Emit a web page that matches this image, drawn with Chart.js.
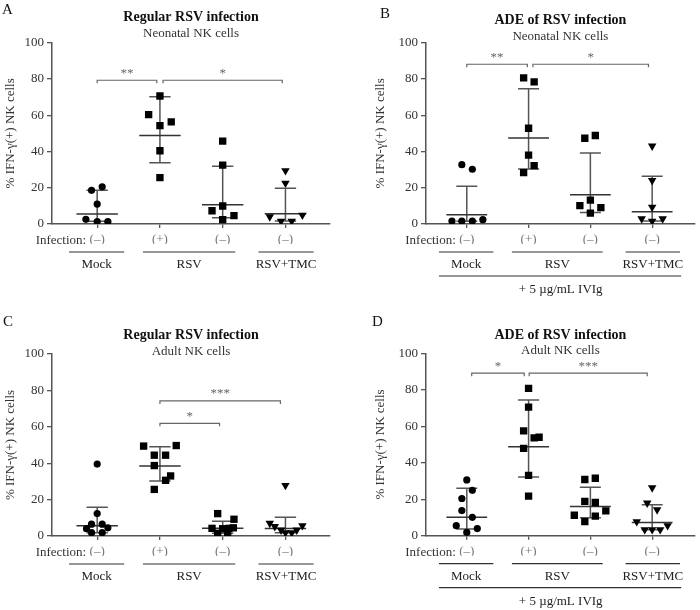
<!DOCTYPE html>
<html>
<head>
<meta charset="utf-8">
<script src="https://cdn.jsdelivr.net/npm/chart.js@4.4.1/dist/chart.umd.min.js"></script>
<style>
body { margin: 0; background: #fff; }
#fig { position: relative; width: 700px; height: 610px; overflow: hidden; }
#fig canvas { position: absolute; }
</style>
</head>
<body>
<div id="fig">
  <canvas id="chartA" width="350" height="300" style="left:0;top:0"></canvas>
  <canvas id="chartB" width="350" height="300" style="left:350px;top:0"></canvas>
  <canvas id="chartC" width="350" height="320" style="left:0;top:290px"></canvas>
  <canvas id="chartD" width="350" height="320" style="left:350px;top:290px"></canvas>
</div>
<script>
// values (% IFN-g(+) NK cells)
var infectionLabels = ['(\u2013)', '(+)', '(\u2013)', '(\u2013)'];
var groupNames = ['Mock', 'RSV', 'RSV+TMC'];
var yTicks = [0, 20, 40, 60, 80, 100];
var yTitle = '% IFN-\u03b3(+) NK cells';
var ivigNote = '+ 5 \u00b5g/mL IVIg';

// A - regular infection, neonatal
var aMock = [18.6, 20.5, 11.0, 2.6, 1.3, 1.3];
var aMockX = [-0.09, 0.08, 0, -0.18, 0, 0.17];
var aRsvPos = [70.6, 60.3, 56.3, 54.3, 40.4, 25.6];
var aRsvPosX = [0, -0.18, 0.18, 0, 0, 0];
var aRsvNeg = [45.7, 32.5, 9.9, 7.3, 4.6, 2.4];
var aRsvNegX = [0, 0, 0, -0.17, 0.18, 0];
var aTmc = [29.4, 22.5, 4.0, 1.6, 1.6, 4.9];
var aTmcX = [0, 0, -0.25, -0.07, 0.1, 0.27];
var aMean = [5.5, 48.8, 10.6, 5.7];
var aHigh = [18.6, 70.2, 31.8, 19.7];
var aLow = [1.5, 33.8, 3.5, 1.6];
var aSig = [[0, 0.95, 79.3, '**'], [1.05, 2.95, 79.3, '*']];

// B - ADE, neonatal
var bMock = [32.7, 30.2, 1.6, 1.6, 1.6, 2.4];
var bMockX = [-0.08, 0.09, -0.24, -0.08, 0.09, 0.26];
var bRsvPos = [80.6, 78.4, 52.8, 38.0, 32.2, 28.3];
var bRsvPosX = [-0.08, 0.09, 0, 0, 0.09, -0.08];
var bRsvNeg = [47.3, 48.8, 13.2, 10.1, 9.0, 6.0];
var bRsvNegX = [-0.09, 0.08, 0, -0.17, 0.17, 0];
var bTmc = [43.0, 24.0, 9.3, 2.9, 1.6, 2.9];
var bTmcX = [0, 0, 0, -0.17, 0, 0.17];
var bMean = [5.1, 47.5, 16.1, 6.8];
var bHigh = [20.8, 74.6, 39.1, 26.3];
var bLow = [1.5, 30.3, 6.4, 1.6];
var bSig = [[0, 0.98, 88.1, '**'], [1.07, 2.94, 88.1, '*']];

// C - regular infection, adult
var cMock = [39.5, 12.3, 6.5, 6.5, 4.0, 4.5, 1.8, 1.8];
var cMockX = [0, 0, -0.09, 0.08, -0.17, 0.17, -0.09, 0.08];
var cRsvPos = [49.4, 49.7, 44.4, 44.4, 38.7, 33.0, 30.6, 25.6];
var cRsvPosX = [-0.26, 0.26, -0.09, 0.09, -0.09, 0.17, 0.09, -0.09];
var cRsvNeg = [12.3, 9.2, 4.2, 4.0, 4.2, 4.5, 1.5, 1.5];
var cRsvNegX = [-0.08, 0.18, -0.17, 0, 0.1, 0.17, -0.08, 0.08];
var cTmc = [27.8, 7.0, 5.2, 3.3, 1.8, 1.8, 3.3, 5.7];
var cTmcX = [0, -0.25, -0.17, -0.07, 0, 0.1, 0.18, 0.27];
var cMean = [5.7, 38.5, 4.2, 4.1];
var cHigh = [15.8, 49.0, 8.1, 10.3];
var cLow = [1.8, 30.2, 1.5, 1.8];
var cSig = [[1, 1.95, 61.9, '*'], [1, 2.92, 74.2, '***']];

// D - ADE, adult
var dMock = [30.6, 24.9, 20.4, 13.8, 10.1, 5.5, 3.9, 1.8];
var dMockX = [0, 0.09, -0.08, -0.08, 0.09, -0.17, 0.17, 0];
var dRsvPos = [80.8, 70.5, 57.5, 53.6, 54.0, 47.9, 33.1, 21.7];
var dRsvPosX = [0, 0, -0.08, 0.09, 0.17, -0.08, 0, 0];
var dRsvNeg = [30.8, 31.5, 18.8, 18.2, 11.2, 13.6, 10.7, 7.7];
var dRsvNegX = [-0.09, 0.08, -0.09, 0.08, -0.26, 0.25, 0.08, -0.09];
var dTmc = [26.3, 17.9, 14.2, 7.7, 3.3, 3.3, 3.3, 5.5];
var dTmcX = [0, -0.08, 0.08, -0.25, -0.12, 0, 0.13, 0.25];
var dMean = [10.1, 48.8, 16.0, 7.2];
var dHigh = [26.0, 74.4, 26.5, 16.9];
var dLow = [3.7, 32.2, 9.8, 3.3];
var dSig = [[0.08, 0.93, 89.1, '*'], [1.01, 2.92, 89.1, '***']];

var serif = "'Liberation Serif', 'DejaVu Serif', serif";
var ink = '#222';
var lineGray = '#555';

function toPoints(vals, offs, cat) {
    return vals.map(function(v, i) { return {x: cat + offs[i], y: v}; });
}

// drawing extras (error bars, brackets, labels) per canvas
var panels = {};

var figurePlugin = {
    id: 'figureExtras',
    beforeDatasetsDraw: function(chart) {
        var p = panels[chart.canvas.id];
        var ctx = chart.ctx, xs = chart.scales.x, ys = chart.scales.y;
        ctx.save();
        ctx.lineWidth = 1.5;
        for (var i = 0; i < 4; i++) {
            var cx = xs.getPixelForValue(i);
            var hi = ys.getPixelForValue(p.high[i]);
            var lo = ys.getPixelForValue(p.low[i]);
            var mn = ys.getPixelForValue(p.mean[i]);
            var capW = xs.getPixelForValue(i + 0.17) - cx;
            var meanW = xs.getPixelForValue(i + 0.33) - cx;
            ctx.strokeStyle = lineGray;
            ctx.beginPath();
            ctx.moveTo(cx, hi); ctx.lineTo(cx, lo);
            ctx.moveTo(cx - capW, hi); ctx.lineTo(cx + capW, hi);
            ctx.moveTo(cx - capW, lo); ctx.lineTo(cx + capW, lo);
            ctx.stroke();
            ctx.strokeStyle = '#333';
            ctx.beginPath();
            ctx.moveTo(cx - meanW, mn); ctx.lineTo(cx + meanW, mn);
            ctx.stroke();
        }
        ctx.restore();
    },
    afterDraw: function(chart) {
        var p = panels[chart.canvas.id];
        var ctx = chart.ctx, xs = chart.scales.x, ys = chart.scales.y;
        var area = chart.chartArea;
        var base = area.bottom;
        ctx.save();
        ctx.fillStyle = '#111';
        ctx.textBaseline = 'middle';
        ctx.textAlign = 'left';
        ctx.font = '15px ' + serif;
        ctx.fillText(p.letter, p.letterX, p.letterY);

        var mid = (area.left + area.right) / 2;
        ctx.textAlign = 'center';
        ctx.font = 'bold 14px ' + serif;
        ctx.fillText(p.title, mid, p.titleY);
        ctx.font = '13px ' + serif;
        ctx.fillStyle = '#333';
        ctx.fillText(p.subtitle, mid, p.subY);

        // significance brackets
        ctx.strokeStyle = '#666';
        ctx.fillStyle = '#666';
        ctx.lineWidth = 1.2;
        p.sig.forEach(function(s) {
            var x1 = xs.getPixelForValue(s[0]), x2 = xs.getPixelForValue(s[1]);
            var y = ys.getPixelForValue(s[2]);
            ctx.beginPath();
            ctx.moveTo(x1, y + 3); ctx.lineTo(x1, y); ctx.lineTo(x2, y); ctx.lineTo(x2, y + 3);
            ctx.stroke();
            ctx.font = '13px ' + serif;
            ctx.fillText(s[3], (x1 + x2) / 2, y - 7);
        });

        // infection row + group underlines
        ctx.font = '13px ' + serif;
        ctx.fillStyle = '#333';
        ctx.textAlign = 'right';
        ctx.fillText('Infection:', xs.getPixelForValue(0) - 11, base + 17);
        ctx.textAlign = 'center';
        var spans = [[-0.45, 0.43], [0.73, 2.2], [2.57, 3.45]];
        ctx.strokeStyle = '#333';
        ctx.lineWidth = 1.2;
        spans.forEach(function(sp, i) {
            var x1 = xs.getPixelForValue(sp[0]), x2 = xs.getPixelForValue(sp[1]);
            ctx.beginPath();
            ctx.moveTo(x1, base + 28); ctx.lineTo(x2, base + 28);
            ctx.stroke();
            ctx.fillStyle = ink;
            ctx.fillText(groupNames[i], (x1 + x2) / 2, base + 40.5);
        });
        if (p.ivig) {
            var l1 = xs.getPixelForValue(-0.45), l2 = xs.getPixelForValue(3.47);
            ctx.beginPath();
            ctx.moveTo(l1, base + 52); ctx.lineTo(l2, base + 52);
            ctx.stroke();
            ctx.fillText(ivigNote, xs.getPixelForValue(1.52), base + 66);
        }
        ctx.restore();
    }
};

function makePanel(id, d, lay) {
    panels[id] = {
        letter: lay.letter, letterX: lay.letterX, letterY: lay.letterY,
        title: lay.title, subtitle: lay.subtitle, titleY: lay.titleY, subY: lay.subY,
        mean: d.mean, high: d.high, low: d.low, sig: d.sig, ivig: lay.ivig
    };
    var styles = [
        {pointStyle: 'circle', radius: 3.6, rot: 0},
        {pointStyle: 'rect', radius: 5.2, rot: 0},
        {pointStyle: 'rect', radius: 5.2, rot: 0},
        {pointStyle: 'triangle', radius: 4.9, rot: 180}
    ];
    var sets = d.groups.map(function(g, i) {
        return {
            data: toPoints(g[0], g[1], i),
            pointStyle: styles[i].pointStyle,
            pointRadius: styles[i].radius,
            pointRotation: styles[i].rot,
            backgroundColor: '#000',
            borderColor: '#000',
            borderWidth: 0,
            showLine: false
        };
    });
    var font = {family: serif, size: 13};
    new Chart(document.getElementById(id), {
        type: 'scatter',
        data: {datasets: sets},
        options: {
            responsive: false,
            animation: false,
            layout: {padding: lay.pad},
            plugins: {legend: {display: false}, tooltip: {enabled: false}, title: {display: false}},
            scales: {
                x: {
                    type: 'linear', min: lay.xMin, max: lay.xMax,
                    afterBuildTicks: function(s) { s.ticks = [0, 1, 2, 3].map(function(v) { return {value: v}; }); },
                    afterFit: function(s) { s.height = 20; },
                    grid: {display: true, drawOnChartArea: false, drawTicks: true, tickLength: 4, color: lineGray, lineWidth: 1.3},
                    border: {display: true, color: lineGray, width: 1.5},
                    ticks: {
                        callback: function(v) { return infectionLabels[v]; },
                        color: '#777', font: font, padding: 4, autoSkip: false, maxRotation: 0
                    }
                },
                y: {
                    min: 0, max: 100,
                    afterBuildTicks: function(s) { s.ticks = yTicks.map(function(v) { return {value: v}; }); },
                    afterFit: function(s) { s.width = lay.yW; },
                    grid: {display: true, drawOnChartArea: false, drawTicks: true, tickLength: 5, color: lineGray, lineWidth: 1.3},
                    border: {display: true, color: lineGray, width: 1.5},
                    ticks: {color: '#333', font: font, padding: 3},
                    title: {display: true, text: yTitle, color: '#333', font: font, padding: {top: 3, bottom: 0}}
                }
            }
        },
        plugins: [figurePlugin]
    });
}

makePanel('chartA', {
    groups: [[aMock, aMockX], [aRsvPos, aRsvPosX], [aRsvNeg, aRsvNegX], [aTmc, aTmcX]],
    mean: aMean, high: aHigh, low: aLow, sig: aSig
}, {
    letter: 'A', letterX: 2, letterY: 10, title: 'Regular RSV infection', subtitle: 'Neonatal NK cells',
    titleY: 17.3, subY: 33.3, ivig: false,
    pad: {left: 0, right: 20, top: 42.7, bottom: 56}, yW: 52, xMin: -0.72, xMax: 3.71
});

makePanel('chartB', {
    groups: [[bMock, bMockX], [bRsvPos, bRsvPosX], [bRsvNeg, bRsvNegX], [bTmc, bTmcX]],
    mean: bMean, high: bHigh, low: bLow, sig: bSig
}, {
    letter: 'B', letterX: 30, letterY: 14, title: 'ADE of RSV infection', subtitle: 'Neonatal NK cells',
    titleY: 20.7, subY: 36.7, ivig: true,
    pad: {left: 20, right: 0, top: 42.7, bottom: 56}, yW: 56, xMin: -0.66, xMax: 3.69
});

makePanel('chartC', {
    groups: [[cMock, cMockX], [cRsvPos, cRsvPosX], [cRsvNeg, cRsvNegX], [cTmc, cTmcX]],
    mean: cMean, high: cHigh, low: cLow, sig: cSig
}, {
    letter: 'C', letterX: 3, letterY: 32, title: 'Regular RSV infection', subtitle: 'Adult NK cells',
    titleY: 45, subY: 61.7, ivig: false,
    pad: {left: 0, right: 20, top: 64, bottom: 54}, yW: 52, xMin: -0.72, xMax: 3.71
});

makePanel('chartD', {
    groups: [[dMock, dMockX], [dRsvPos, dRsvPosX], [dRsvNeg, dRsvNegX], [dTmc, dTmcX]],
    mean: dMean, high: dHigh, low: dLow, sig: dSig
}, {
    letter: 'D', letterX: 22, letterY: 31.7, title: 'ADE of RSV infection', subtitle: 'Adult NK cells',
    titleY: 45, subY: 60.7, ivig: true,
    pad: {left: 20, right: 0, top: 63.3, bottom: 54.3}, yW: 56, xMin: -0.66, xMax: 3.69
});
</script>
</body>
</html>
